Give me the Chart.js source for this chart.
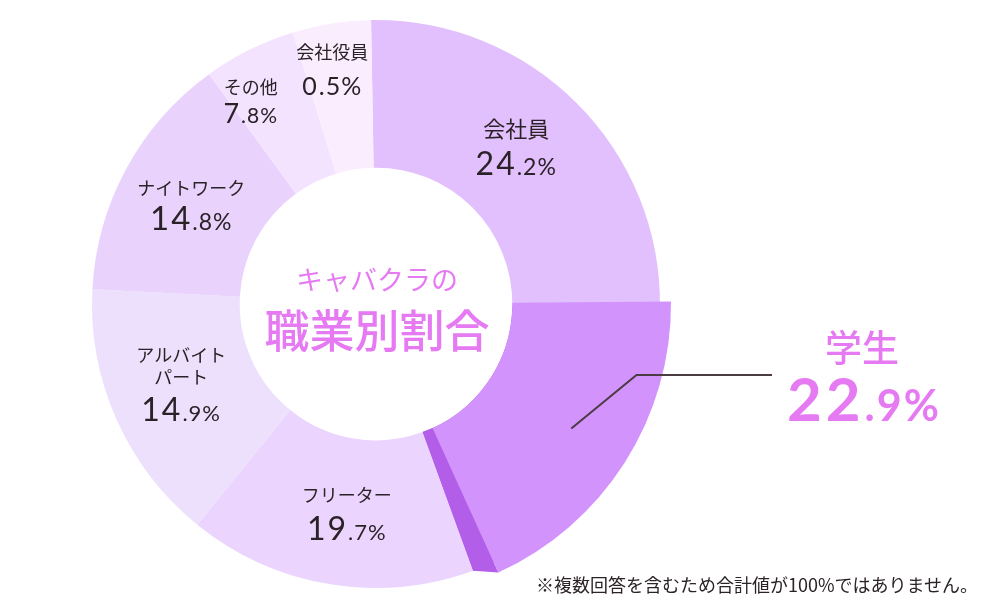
<!DOCTYPE html>
<html lang="ja">
<head>
<meta charset="utf-8">
<title>キャバクラの職業別割合</title>
<script src="https://cdn.jsdelivr.net/npm/chart.js@4.4.1/dist/chart.umd.min.js"></script>
<style>
html,body{margin:0;padding:0;background:#fff;}
#wrap{position:relative;width:1000px;height:600px;overflow:hidden;}
#note{position:absolute;right:22px;top:574px;font:18px "Noto Sans CJK JP",sans-serif;color:#2b2327;line-height:1.2;white-space:nowrap;}
</style>
</head>
<body>
<div id="wrap">
  <canvas id="jobChart" width="1000" height="600"></canvas>
  <div id="note">※複数回答を含むため合計値が100%ではありません。</div>
</div>
<script>
// -------- データ --------
const jobs = ['会社員', '学生', 'フリーター', 'アルバイト\nパート', 'ナイトワーク', 'その他', '会社役員'];
const percents = ['24.2', '22.9', '19.7', '14.9', '14.8', '7.8', '0.5'];
// 画像上の扇形の大きさ(度) ※図は割合に比例していない
const arcDegrees = [92, 69, 59, 54, 51, 19, 16];

const titleLines = ['キャバクラの', '職業別割合'];

// -------- 見た目 --------
const sliceColors = ['#e2c0fd', '#b35ee9', '#ebd4fd', '#ede0fc', '#e9d3fd', '#f4e3fe', '#faedfe'];
const faceColor = '#d393fd';
const sideColor = '#b35ee9';
const pink = '#e67af3';
const ink = '#2b2227';
const popIndex = 1;
const labelRadius = [0.51, 0, 0.5, 0.5, 0.5, 0.7, 0.7];
const labelTurn = [-3.5, 0, -1.5, 2, 0, -5, -1.5];
const nameSize = [22, 0, 18, 18, 18, 18, 18];
const nameGap = [10, 0, 10, 10, 7, 6, 14];
const valueSize = [[32, 23], 0, [32, 22], [32, 22], [33, 23], [27, 21], [25, 25]];
const JP = '"Noto Sans CJK JP", sans-serif';
const NUM = 'Lato, "Noto Sans", sans-serif';
const deg = Math.PI / 180;

function drawValue(ctx, txt, cx, base, big, small, weight, color, spacing){
    let dot = txt.indexOf('.');
    let a = txt.slice(0, dot), b = txt.slice(dot) + '%';
    ctx.save();
    ctx.letterSpacing = spacing + 'px';
    ctx.font = `${weight} ${big}px ${NUM}`;
    let wa = ctx.measureText(a).width;
    ctx.letterSpacing = (spacing / 2) + 'px';
    ctx.font = `${weight} ${small}px ${NUM}`;
    let wb = ctx.measureText(b).width;
    let x0 = cx - (wa + wb) / 2;
    ctx.fillStyle = color;
    ctx.textAlign = 'left';
    ctx.textBaseline = 'alphabetic';
    ctx.letterSpacing = spacing + 'px';
    ctx.font = `${weight} ${big}px ${NUM}`;
    ctx.fillText(a, x0, base);
    ctx.letterSpacing = (spacing / 2) + 'px';
    ctx.font = `${weight} ${small}px ${NUM}`;
    ctx.fillText(b, x0 + wa, base);
    ctx.restore();
}

// 学生の扇形を浮き上がらせる
const popPlugin = {
    id: 'popSlice',
    afterDatasetsDraw(chart){
        const ctx = chart.ctx;
        const el = chart.getDatasetMeta(0).data[popIndex];
        const p = el.getProps(['x', 'y', 'startAngle', 'endAngle', 'innerRadius', 'outerRadius'], true);
        const fs = p.startAngle - 1.5 * deg, fe = p.endAngle - 4.5 * deg, fR = p.outerRadius + 11;
        const pt = (r, a) => [p.x + r * Math.cos(a), p.y + r * Math.sin(a)];
        // 側面
        ctx.save();
        ctx.fillStyle = sideColor;
        ctx.beginPath();
        ctx.moveTo(...pt(p.innerRadius, fe));
        ctx.lineTo(...pt(fR, fe));
        ctx.lineTo(...pt(p.outerRadius, p.endAngle));
        ctx.lineTo(...pt(p.innerRadius, p.endAngle));
        ctx.arc(p.x, p.y, p.innerRadius, p.endAngle, fe, true);
        ctx.closePath();
        ctx.fill();
        ctx.restore();
        // 表面
        const face = new el.constructor({
            x: p.x, y: p.y, startAngle: fs, endAngle: fe,
            innerRadius: p.innerRadius, outerRadius: fR, circumference: fe - fs
        });
        face.options = Object.assign({}, el.options, {backgroundColor: faceColor, borderWidth: 0, offset: 0, spacing: 0});
        face.draw(ctx);

        // 引き出し線
        const mid = (fs + fe) / 2;
        const [sx, sy] = pt(fR * 0.785, mid);
        const ly = 375, ex = 772;
        const kx = sx + (sy - ly) * 1.22;
        ctx.save();
        ctx.strokeStyle = '#4b3b42';
        ctx.lineWidth = 2;
        ctx.beginPath();
        ctx.moveTo(sx, sy);
        ctx.lineTo(kx, ly);
        ctx.lineTo(ex, ly);
        ctx.stroke();
        ctx.fillStyle = pink;
        ctx.textAlign = 'center';
        ctx.textBaseline = 'alphabetic';
        ctx.font = `500 37px ${JP}`;
        ctx.fillText(jobs[popIndex], 862, 362);
        ctx.restore();
        drawValue(ctx, percents[popIndex], 864, 421, 60, 43, 700, pink, 4);
    }
};

// 各ラベルと中央タイトル
const labelPlugin = {
    id: 'sliceLabels',
    afterDatasetsDraw(chart){
        const ctx = chart.ctx;
        const meta = chart.getDatasetMeta(0);
        meta.data.forEach((el, i) => {
            if(i === popIndex) return;
            const p = el.getProps(['x', 'y', 'startAngle', 'endAngle', 'innerRadius', 'outerRadius'], true);
            const a = (p.startAngle + p.endAngle) / 2 + labelTurn[i] * deg;
            const r = p.innerRadius + (p.outerRadius - p.innerRadius) * labelRadius[i];
            const cx = p.x + r * Math.cos(a), cy = p.y + r * Math.sin(a);
            const lines = jobs[i].split('\n');
            const lh = nameSize[i] + 4;
            const gap = nameGap[i];
            const total = lines.length * lh + gap + valueSize[i][0] * 0.72;
            let top = cy - total / 2;
            ctx.save();
            ctx.fillStyle = ink;
            ctx.textAlign = 'center';
            ctx.textBaseline = 'middle';
            ctx.font = `400 ${nameSize[i]}px ${JP}`;
            lines.forEach((ln, k) => ctx.fillText(ln, cx, top + lh * k + lh / 2));
            ctx.restore();
            drawValue(ctx, percents[i], cx, top + lines.length * lh + gap + valueSize[i][0] * 0.72,
                valueSize[i][0], valueSize[i][1], 400, ink, 2);
        });
        const c = meta.data[0];
        ctx.save();
        ctx.fillStyle = pink;
        ctx.textAlign = 'center';
        ctx.textBaseline = 'middle';
        ctx.font = `400 27px ${JP}`;
        ctx.fillText(titleLines[0], c.x + 1, c.y - 24);
        ctx.font = `500 45px ${JP}`;
        ctx.fillText(titleLines[1], c.x + 1, c.y + 27);
        ctx.restore();
    }
};

new Chart(document.getElementById('jobChart'), {
    type: 'doughnut',
    data: {
        labels: jobs,
        datasets: [{
            data: arcDegrees,
            backgroundColor: sliceColors,
            borderWidth: 0
        }]
    },
    options: {
        responsive: false,
        animation: false,
        rotation: -1,
        radius: 284,
        cutout: '48%',
        layout: {padding: {left: 0, right: 248, top: 8, bottom: 0}},
        plugins: {legend: {display: false}, tooltip: {enabled: false}}
    },
    plugins: [popPlugin, labelPlugin]
});
</script>
</body>
</html>
